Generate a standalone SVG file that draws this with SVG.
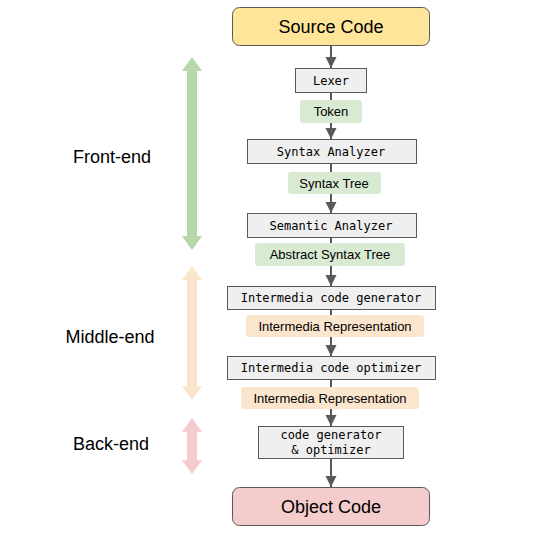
<svg xmlns="http://www.w3.org/2000/svg" width="545" height="533" viewBox="0 0 545 533">
<style>
.big{font-family:"Liberation Sans",Arial,sans-serif;font-size:18px;fill:#000;text-anchor:middle}
.lab{font-family:"Liberation Sans",Arial,sans-serif;font-size:13px;fill:#000;text-anchor:middle}
.mono{font-family:"DejaVu Sans Mono","Liberation Mono",monospace;font-size:12px;fill:#000;text-anchor:middle}
.step{fill:#efefef;stroke:#595959;stroke-width:1}
.green{fill:#d9ead3}
.orange{fill:#fce5cd}
.con{stroke:#595959;stroke-width:2;fill:none}
.side{font-family:"Liberation Sans",Arial,sans-serif;font-size:18px;fill:#000;text-anchor:middle}
</style>
<defs>
<marker id="ah" markerUnits="userSpaceOnUse" markerWidth="11" markerHeight="12" refX="11" refY="5.5" orient="auto">
<path d="M0,0 L11,5.5 L0,11 Z" fill="#595959"/>
</marker>
</defs>
<rect width="545" height="533" fill="#fff"/>
<g id="phases">
<path d="M192,57 L202,71 L197,71 L197,236 L202,236 L192,250 L182,236 L187,236 L187,71 L182,71 Z" fill="#b6d7a8"/>
<path d="M192,266 L202,280 L197,280 L197,386 L202,386 L192,400 L182,386 L187,386 L187,280 L182,280 Z" fill="#fce5cd"/>
<path d="M192,418 L202,432 L197,432 L197,460 L202,460 L192,474 L182,460 L187,460 L187,432 L182,432 Z" fill="#f4cccc"/>
<text class="side" x="112" y="163">Front-end</text>
<text class="side" x="110" y="343">Middle-end</text>
<text class="side" x="111" y="450">Back-end</text>
</g>
<g id="connectors">
<line class="con" x1="331" y1="45" x2="331" y2="68" marker-end="url(#ah)"/>
<line class="con" x1="331" y1="92" x2="331" y2="100"/>
<line class="con" x1="331" y1="123" x2="331" y2="139" marker-end="url(#ah)"/>
<line class="con" x1="331" y1="163" x2="331" y2="172"/>
<line class="con" x1="331" y1="194" x2="331" y2="213" marker-end="url(#ah)"/>
<line class="con" x1="331" y1="237" x2="331" y2="243"/>
<line class="con" x1="331" y1="266" x2="331" y2="286" marker-end="url(#ah)"/>
<line class="con" x1="331" y1="309" x2="331" y2="315"/>
<line class="con" x1="331" y1="337" x2="331" y2="356" marker-end="url(#ah)"/>
<line class="con" x1="331" y1="379" x2="331" y2="387"/>
<line class="con" x1="331" y1="409" x2="331" y2="426" marker-end="url(#ah)"/>
<line class="con" x1="331" y1="458" x2="331" y2="487" marker-end="url(#ah)"/>
</g>
<g id="source">
<rect x="232.5" y="7.5" width="197" height="38" rx="7" fill="#ffe599" stroke="#595959" stroke-width="1"/>
<text class="big" x="331" y="33">Source Code</text>
</g>
<g id="lexer">
<rect class="step" x="295.5" y="68.5" width="71" height="24"/>
<text class="mono" x="331" y="85">Lexer</text>
</g>
<g id="token">
<rect class="green" x="300" y="100" width="62" height="23" rx="3"/>
<text class="lab" x="331" y="116">Token</text>
</g>
<g id="syntax-analyzer">
<rect class="step" x="247.5" y="139.5" width="169" height="24"/>
<text class="mono" x="331" y="156">Syntax Analyzer</text>
</g>
<g id="syntax-tree">
<rect class="green" x="288" y="172" width="93" height="22" rx="3"/>
<text class="lab" x="334" y="188">Syntax Tree</text>
</g>
<g id="semantic-analyzer">
<rect class="step" x="247.5" y="213.5" width="169" height="24"/>
<text class="mono" x="331" y="230">Semantic Analyzer</text>
</g>
<g id="ast">
<rect class="green" x="255" y="243" width="150" height="23" rx="3"/>
<text class="lab" x="330" y="259">Abstract Syntax Tree</text>
</g>
<g id="ic-generator">
<rect class="step" x="227.5" y="286.5" width="208" height="23"/>
<text class="mono" x="331" y="302">Intermedia code generator</text>
</g>
<g id="ir1">
<rect class="orange" x="246" y="315" width="178" height="22" rx="3"/>
<text class="lab" x="335" y="331">Intermedia Representation</text>
</g>
<g id="ic-optimizer">
<rect class="step" x="227.5" y="356.5" width="208" height="23"/>
<text class="mono" x="331" y="372">Intermedia code optimizer</text>
</g>
<g id="ir2">
<rect class="orange" x="241" y="387" width="178" height="22" rx="3"/>
<text class="lab" x="330" y="403">Intermedia Representation</text>
</g>
<g id="codegen">
<rect class="step" x="258.5" y="426.5" width="145" height="32"/>
<text class="mono" x="331" y="439">code generator</text>
<text class="mono" x="331" y="454">&amp; optimizer</text>
</g>
<g id="object">
<rect x="232.5" y="487.5" width="197" height="38" rx="7" fill="#f4cccc" stroke="#595959" stroke-width="1"/>
<text class="big" x="331" y="513">Object Code</text>
</g>
</svg>
